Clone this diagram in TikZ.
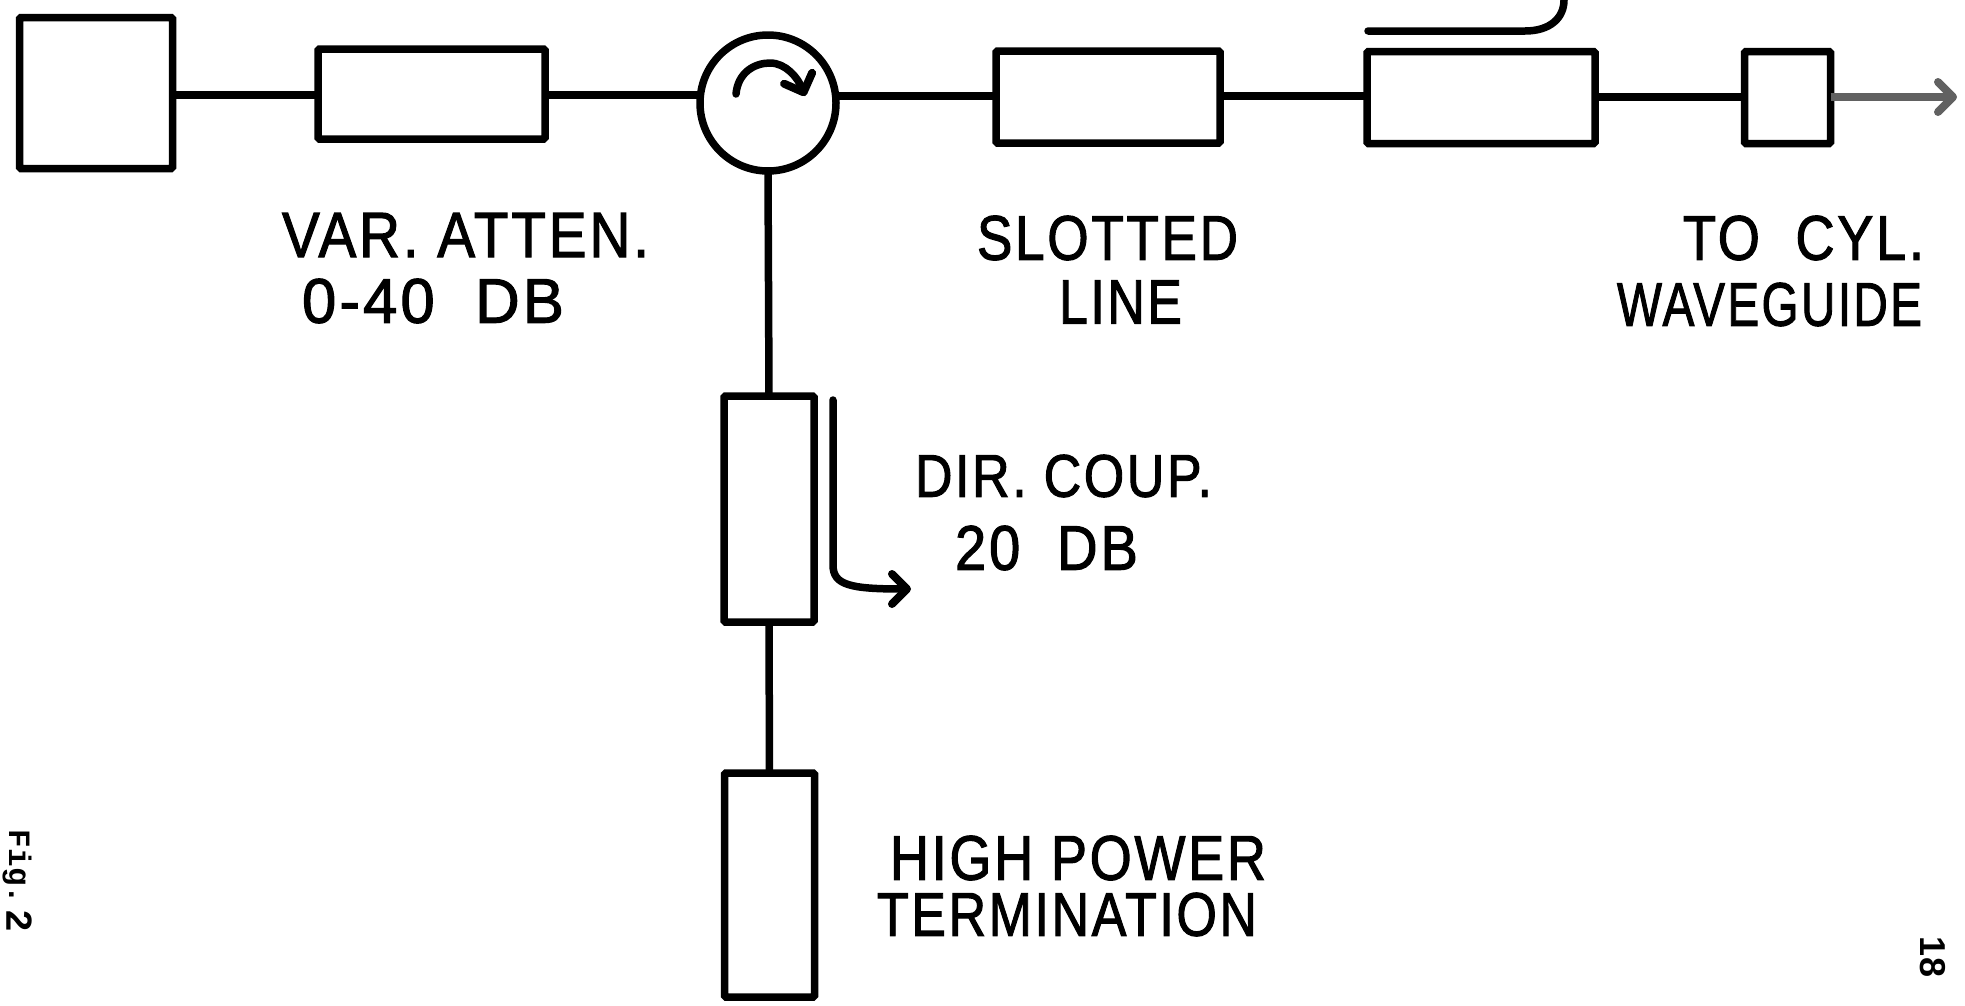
\documentclass[tikz,border=0pt]{standalone}
\usepackage{fontspec}
\setmainfont{Liberation Sans}
\newfontfamily\typefont{Liberation Mono}
\newfontfamily\letterfont[FakeBold=1.8,LetterSpace=5]{Liberation Sans}
\usetikzlibrary{arrows.meta}
\tikzset{
  wire/.style={line width=7.5pt,line cap=butt,line join=round},
  boxnode/.style={draw,line width=7.5pt,rounded corners=1.5pt,inner sep=0pt,outer sep=0pt,fill=white},
  labelnode/.style={inner sep=0pt,outer sep=0pt,font=\letterfont\fontsize{60}{60}\selectfont},
  barb/.style={-{Straight Barb[length=15pt,width=30pt,line width=8pt,round]}},
  greywire/.style={wire,draw=black!62},
}
\newcommand{\fitlabel}[6]{\node[labelnode] (#1) at (#2,#3) {\resizebox{#4pt}{#5pt}{#6}};}
\begin{document}
\begin{tikzpicture}[x=1pt,y=-1pt]
\useasboundingbox (0,0) rectangle (1965,1005);
% free ends
\coordinate (arrowend) at (1957,97);
\coordinate (topstart) at (1368,31);
\coordinate (topend) at (1564,0);
\coordinate (sidestart) at (833,400);
\coordinate (sideend) at (911,589);
\coordinate (arcstart) at (736,94);
\coordinate (arcend) at (805,96);
% boxes
\node[boxnode,minimum width=153pt,minimum height=151pt] (source) at (96,93) {};
\node[boxnode,minimum width=227pt,minimum height=90pt] (atten) at (431.5,94) {};
\node[boxnode,circle,minimum size=136pt] (circ) at (768,103) {};
\node[boxnode,minimum width=224pt,minimum height=92pt] (slotted) at (1108,97) {};
\node[boxnode,minimum width=228pt,minimum height=92pt] (coupler) at (1481,97.5) {};
\node[boxnode,minimum width=86pt,minimum height=92pt] (small) at (1787.5,97.5) {};
\node[boxnode,minimum width=90pt,minimum height=226pt] (dir) at (769,509) {};
\node[boxnode,minimum width=90pt,minimum height=224pt] (term) at (769.5,885) {};
% connectors
\draw[wire] (source.east |- 0,95) -- (atten.west |- 0,95);
\draw[wire] (atten.east |- 0,95) -- (circ.west |- 0,95);
\draw[wire] (circ.east |- 0,96) -- (slotted.west |- 0,96);
\draw[wire] (slotted.east |- 0,96) -- (coupler.west |- 0,96);
\draw[wire] (coupler.east |- 0,97) -- (small.west |- 0,97);
\draw[greywire,barb] (small.east |- 0,97) -- (arrowend);
\draw[wire] (circ.south) -- (dir.north);
\draw[wire] (dir.south) -- (term.north);
\draw[wire,line cap=round] (topstart) -- (1525,31) .. controls (1550,31) and (1564,18) .. (topend);
\draw[wire,line cap=round,barb] (sidestart) -- (833,565) .. controls (833,585) and (850,589) .. (sideend);
\draw[wire,line cap=round,barb] (arcstart) .. controls (738,72) and (755,63) .. (770,63) .. controls (786,63) and (798,78) .. (arcend);
% labels
\fitlabel{varatten}{465.5}{235}{367}{44}{VAR.\ ATTEN.}
\fitlabel{range}{433}{301}{262}{44}{0-40\ \ DB}
\fitlabel{slottedtop}{1107.5}{238}{261}{44}{SLOTTED}
\fitlabel{slottedbot}{1120.5}{302}{123}{43}{LINE}
\fitlabel{tocyl}{1803.5}{238}{241}{44}{TO\ \ CYL.}
\fitlabel{wave}{1769.5}{304.5}{305}{43}{WAVEGUIDE}
\fitlabel{dircoup}{1063.5}{476}{297}{42}{DIR.\ COUP.}
\fitlabel{twenty}{1046.5}{548}{183}{44}{20\ \ DB}
\fitlabel{highpower}{1078}{858}{376}{44}{HIGH\ POWER}
\fitlabel{termination}{1067}{914.5}{380}{43}{TERMINATION}
\node[inner sep=0pt,rotate=-90,font=\typefont\bfseries\fontsize{31}{31}\selectfont] (figword) at (17,867) {Fig.};
\node[inner sep=0pt,rotate=-90,font=\typefont\bfseries\fontsize{38}{38}\selectfont] (fignum) at (19,921) {2};
\node[inner sep=0pt,rotate=-90,font=\bfseries\fontsize{36}{36}\selectfont] (pagenum) at (1933,957) {18};
\end{tikzpicture}
\end{document}
